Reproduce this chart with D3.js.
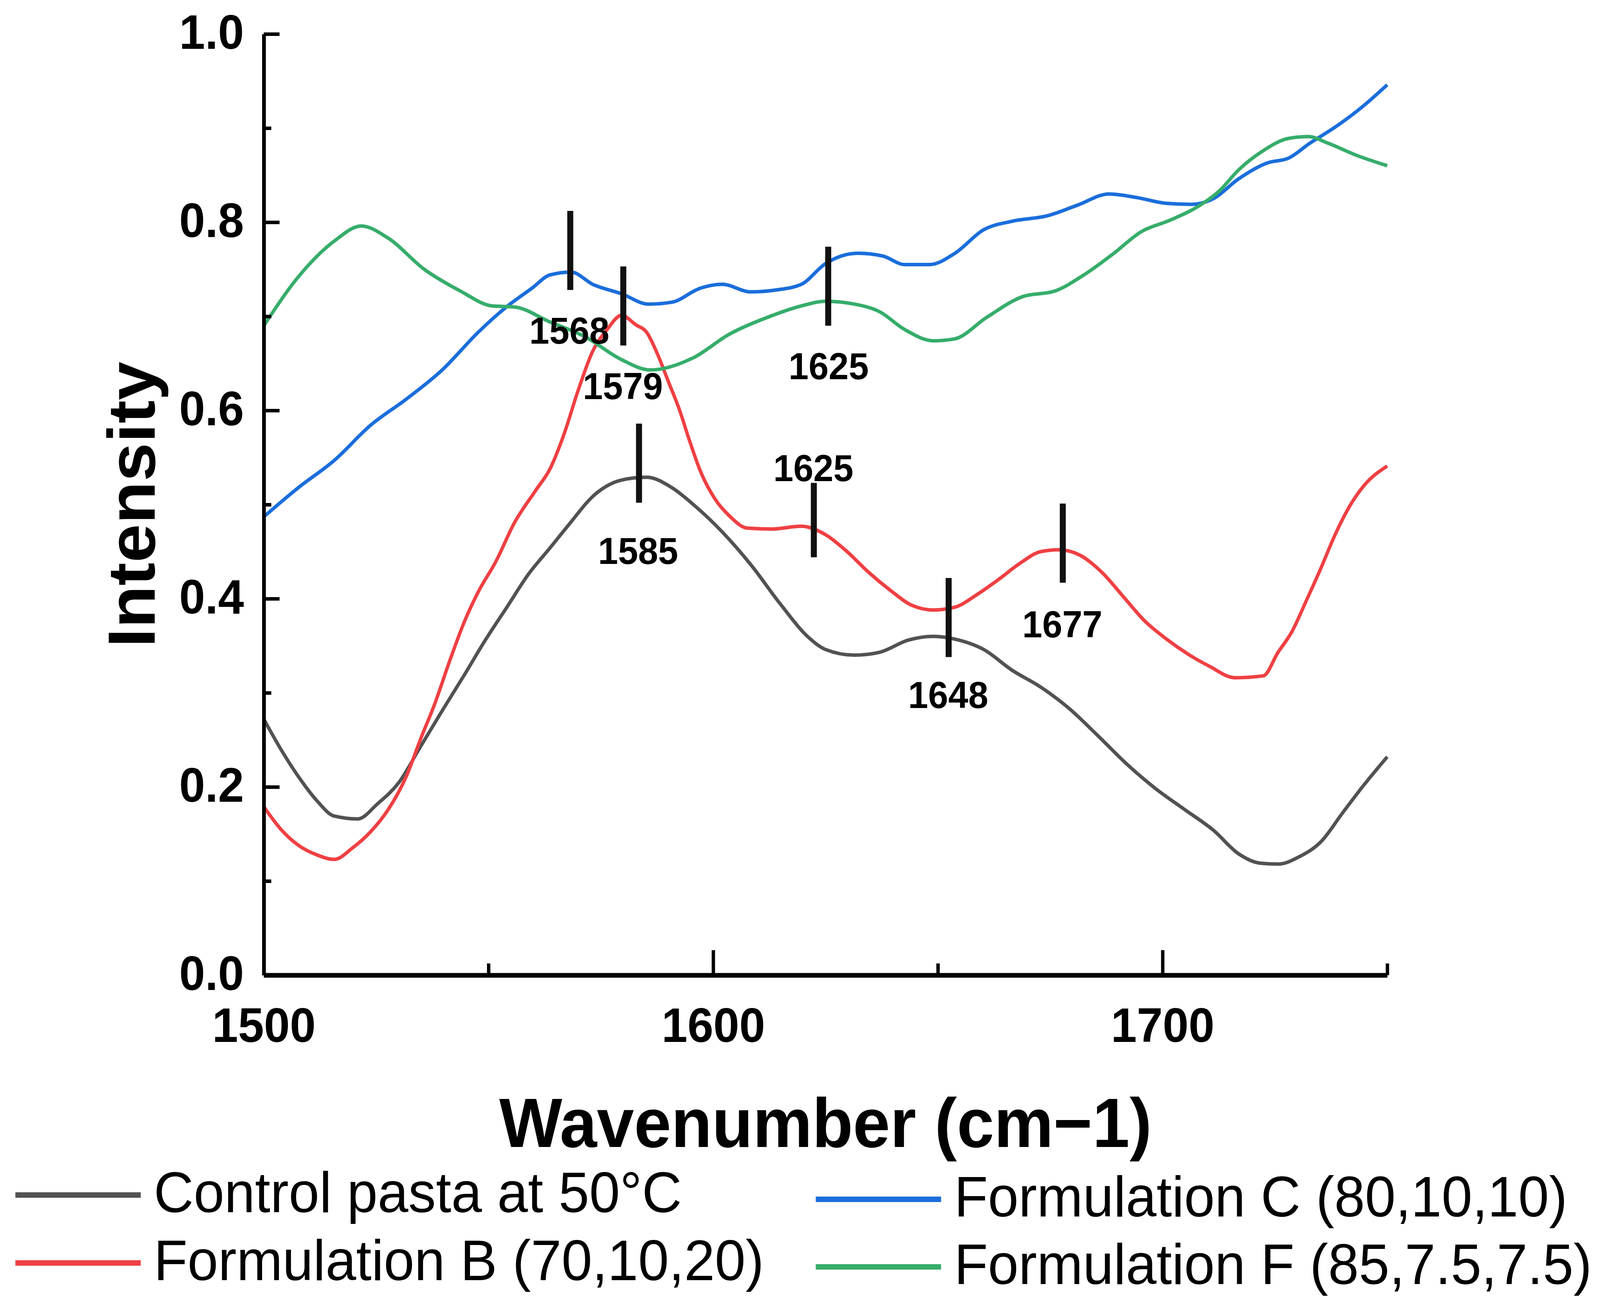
<!DOCTYPE html>
<html>

<head>
  <meta charset='utf-8'>
  <style>
    html, body { margin: 0; padding: 0; overflow: hidden; background: #fff; }
    svg { display: block; }
    text { font-family: 'Liberation Sans', Arial, sans-serif; }
  </style>
  <script src='https://cdn.jsdelivr.net/npm/d3@7'></script>
</head>

<body>

  <script>

    let [width, height] = [4264, 3357]

    // series as [wavenumber, intensity]
    let controlPasta = [[1500, 0.272], [1503.8, 0.240], [1507.7, 0.211], [1511.7, 0.186], [1515.7, 0.169], [1520.9, 0.166], [1525.3, 0.182], [1530.1, 0.205], [1534.9, 0.243], [1539.7, 0.281], [1544.5, 0.318], [1549.3, 0.356], [1554.1, 0.391], [1558.9, 0.426], [1563.7, 0.454], [1567.6, 0.477], [1574, 0.512], [1579.6, 0.526], [1585.2, 0.529], [1590.8, 0.518], [1595.6, 0.500], [1602, 0.471], [1608.4, 0.436], [1615, 0.394], [1621.2, 0.359], [1625, 0.346], [1631.4, 0.340], [1637, 0.343], [1643.4, 0.356], [1649, 0.360], [1653.8, 0.357], [1660.2, 0.346], [1666.5, 0.324], [1672.9, 0.306], [1679.3, 0.283], [1685.7, 0.254], [1692.1, 0.224], [1698.5, 0.198], [1704.9, 0.176], [1711.3, 0.154], [1716.9, 0.129], [1721.7, 0.119], [1725.7, 0.118], [1730.5, 0.126], [1735.3, 0.142], [1740, 0.172], [1744.8, 0.202], [1750, 0.232]]

    let formulationB = [[1500, 0.179], [1503.8, 0.155], [1507.7, 0.138], [1511.7, 0.128], [1515.7, 0.123], [1519.7, 0.135], [1523.7, 0.152], [1527.7, 0.176], [1531.7, 0.211], [1534.9, 0.251], [1538.1, 0.289], [1541.3, 0.333], [1544.5, 0.374], [1547.7, 0.407], [1551.7, 0.440], [1555.7, 0.480], [1560.5, 0.515], [1563.7, 0.538], [1566.9, 0.576], [1570, 0.622], [1573.2, 0.663], [1576.4, 0.686], [1579.6, 0.701], [1582.8, 0.691], [1585.2, 0.683], [1587.6, 0.660], [1590, 0.631], [1592.4, 0.602], [1594.8, 0.567], [1597.2, 0.535], [1600.4, 0.506], [1603.6, 0.488], [1607.6, 0.475], [1613.2, 0.474], [1619.6, 0.477], [1625, 0.468], [1629.8, 0.450], [1634.6, 0.428], [1639.4, 0.409], [1644.2, 0.393], [1649, 0.388], [1653.8, 0.391], [1658.6, 0.404], [1663.4, 0.420], [1668.1, 0.437], [1672.9, 0.450], [1676.9, 0.452], [1681.7, 0.446], [1686.5, 0.428], [1691.3, 0.402], [1696.1, 0.376], [1700.9, 0.357], [1705.7, 0.341], [1710.5, 0.328], [1716.1, 0.316], [1722.4, 0.318], [1725.7, 0.343], [1728.8, 0.365], [1732, 0.398], [1735.2, 0.432], [1738.4, 0.468], [1741.6, 0.498], [1744.8, 0.520], [1750, 0.541]]

    let formulationC = [[1500, 0.487], [1507.7, 0.518], [1515.7, 0.547], [1523.7, 0.584], [1531.7, 0.612], [1539.7, 0.643], [1547.7, 0.683], [1554, 0.710], [1559.7, 0.730], [1563.7, 0.744], [1568.4, 0.747], [1573.2, 0.734], [1579.6, 0.724], [1585.6, 0.713], [1590.8, 0.715], [1597.2, 0.730], [1602, 0.734], [1608.4, 0.726], [1614, 0.728], [1619.6, 0.734], [1625, 0.756], [1632.2, 0.767], [1637.8, 0.764], [1642.6, 0.755], [1648.2, 0.755], [1653.8, 0.767], [1660.2, 0.792], [1666.5, 0.801], [1674.5, 0.807], [1681, 0.818], [1688.1, 0.830], [1694.5, 0.826], [1700.9, 0.820], [1706.5, 0.819], [1711.3, 0.825], [1716.9, 0.846], [1723.3, 0.863], [1728, 0.868], [1732.8, 0.884], [1738.4, 0.901], [1744.8, 0.924], [1750, 0.946]]

    let formulationF = [[1500, 0.690], [1507.7, 0.742], [1515.7, 0.780], [1521.7, 0.796], [1527.7, 0.783], [1535.7, 0.750], [1543.7, 0.727], [1550.9, 0.711], [1555.7, 0.710], [1563.7, 0.694], [1571.6, 0.678], [1579.6, 0.654], [1586, 0.643], [1595.6, 0.656], [1603.6, 0.681], [1611.6, 0.698], [1619.6, 0.711], [1625, 0.716], [1631.4, 0.713], [1637, 0.705], [1642.6, 0.686], [1649, 0.674], [1653.7, 0.676], [1660.9, 0.699], [1668.9, 0.721], [1676.1, 0.727], [1682.5, 0.744], [1688.9, 0.766], [1695.3, 0.790], [1701.6, 0.802], [1708, 0.817], [1712.8, 0.834], [1716.8, 0.855], [1722.4, 0.876], [1728, 0.889], [1732.5, 0.891], [1736.8, 0.884], [1743.2, 0.871], [1750, 0.860]]

    let seriesNames = ['Control pasta at 50°C', 'Formulation B (70,10,20)', 'Formulation C (80,10,10)', 'Formulation F (85,7.5,7.5)']
    let seriesColors = ['#525252', '#ef4043', '#1a6edb', '#36ad6b']

    // peak markers: bar position, bar span, label text and label anchor
    let markWn = [1568.2, 1580, 1625.6, 1583.5, 1622.4, 1652.4, 1677.8]
    let markTop = [0.812, 0.753, 0.774, 0.586, 0.523, 0.422, 0.501]
    let markBottom = [0.728, 0.669, 0.690, 0.502, 0.444, 0.338, 0.417]
    let markLabels = ['1568', '1579', '1625', '1585', '1625', '1648', '1677']
    let labelWn = [1568, 1579.9, 1625.7, 1583.3, 1622.3, 1652.3, 1677.7]
    let labelY = [0.671, 0.612, 0.633, 0.437, 0.525, 0.284, 0.359]

    let xMajor = [1500, 1600, 1700]
    let xMinor = [1550, 1650, 1750]
    let yMajor = [0, 0.2, 0.4, 0.6, 0.8, 1.0]
    let yMinor = [0.1, 0.3, 0.5, 0.7, 0.9]

    let x = d3.scaleLinear([1500, 1750], [703, 3697])
    let y = d3.scaleLinear([0, 1], [2497, 87])

    let svg = d3.select("body")
      .append("svg")
      .attr("viewBox", `0 0 ${width} ${height}`)
      .attr("preserveAspectRatio", "none")
      .attr("width", "100vw")
      .attr("height", "100vh")
      .style("background", "#fff")

    let line = d3.line()
      .x(d => x(d[0]))
      .y(d => y(d[1]))
      .curve(d3.curveMonotoneX)

    svg.append("g")
      .attr("fill", "none")
      .attr("stroke-width", 9)
      .attr("stroke-linejoin", "round")
      .selectAll("path")
      .data([controlPasta, formulationB, formulationC, formulationF])
      .enter()
      .append("path")
      .attr("stroke", (d, i) => seriesColors[i])
      .attr("d", line)

    // axes
    let xAxisMinor = svg.append("g")
      .attr("transform", `translate(0,${y(0)})`)
      .call(d3.axisBottom(x).tickValues(xMinor).tickSize(-30).tickFormat(""))
    let xAxis = svg.append("g")
      .attr("transform", `translate(0,${y(0)})`)
      .call(d3.axisBottom(x).tickValues(xMajor).tickSize(-64).tickSizeOuter(0).tickFormat(d3.format("d")))
    let yAxisMinor = svg.append("g")
      .attr("transform", `translate(${x(1500)},0)`)
      .call(d3.axisLeft(y).tickValues(yMinor).tickSize(-20).tickFormat(""))
    let yAxis = svg.append("g")
      .attr("transform", `translate(${x(1500)},0)`)
      .call(d3.axisLeft(y).tickValues(yMajor).tickSize(-42).tickSizeOuter(0).tickPadding(53).tickFormat(d3.format(".1f")))

    for (let g of [xAxisMinor, yAxisMinor]) g.select(".domain").remove()
    for (let g of [xAxisMinor, xAxis, yAxisMinor, yAxis]) {
      g.selectAll(".tick line").attr("stroke", "#000").attr("stroke-width", 9)
    }
    xAxis.select(".domain").attr("stroke", "#000").attr("stroke-width", 12)
    yAxis.select(".domain").attr("stroke", "#000").attr("stroke-width", 10)

    xAxis.selectAll(".tick text")
      .attr("y", 171)
      .attr("dy", 0)
      .attr("fill", "#000")
      .attr("font-size", 124)
      .attr("font-weight", "bold")
    yAxis.selectAll(".tick text")
      .attr("dy", "0.3em")
      .attr("fill", "#000")
      .attr("font-size", 124)
      .attr("font-weight", "bold")

    svg.append("text")
      .attr("x", (x(1500) + x(1750)) / 2)
      .attr("y", 2937)
      .attr("text-anchor", "middle")
      .attr("font-size", 178)
      .attr("font-weight", "bold")
      .text("Wavenumber (cm\u22121)")

    svg.append("text")
      .attr("transform", `translate(412,${(y(0) + y(1)) / 2}) rotate(-90)`)
      .attr("text-anchor", "middle")
      .attr("font-size", 178)
      .attr("font-weight", "bold")
      .text("Intensity")

    // peak markers
    let marks = svg.append("g")
    marks.selectAll("line")
      .data(markWn)
      .enter()
      .append("line")
      .attr("x1", d => x(d))
      .attr("x2", d => x(d))
      .attr("y1", (d, i) => y(markTop[i]))
      .attr("y2", (d, i) => y(markBottom[i]))
      .attr("stroke", "#111")
      .attr("stroke-width", 16)
    marks.selectAll("text")
      .data(markLabels)
      .enter()
      .append("text")
      .attr("x", (d, i) => x(labelWn[i]))
      .attr("y", (d, i) => y(labelY[i]))
      .attr("text-anchor", "middle")
      .attr("font-size", 96)
      .attr("font-weight", "bold")
      .text(d => d)

    // legend, two columns
    let legendPos = [[41, 3104], [41, 3278], [2174, 3115], [2174, 3288]]
    let legend = svg.append("g")
      .selectAll("g")
      .data(seriesNames)
      .enter()
      .append("g")
      .attr("transform", (d, i) => `translate(${legendPos[i][0]},${legendPos[i][1]})`)
    legend.append("line")
      .attr("x1", 0)
      .attr("x2", 334)
      .attr("y1", -44)
      .attr("y2", -44)
      .attr("stroke", (d, i) => seriesColors[i])
      .attr("stroke-width", 14)
    legend.append("text")
      .attr("x", 369)
      .attr("font-size", 147)
      .text(d => d)

  </script>
</body>

</html>
